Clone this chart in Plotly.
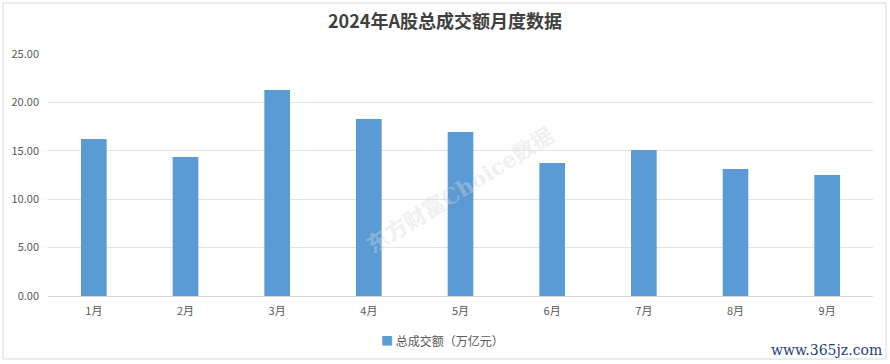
import plotly.graph_objects as go

months = ["1月", "2月", "3月", "4月", "5月", "6月", "7月", "8月", "9月"]
turnover = [16.22, 14.36, 21.28, 18.29, 16.94, 13.74, 15.08, 13.12, 12.50]
y_ticks = [0, 5, 10, 15, 20, 25]
y_tick_labels = ["0.00", "5.00", "10.00", "15.00", "20.00", "25.00"]
series_name = "总成交额（万亿元）"
title_text = "2024年A股总成交额月度数据"
bar_color = "#5b9bd5"

W, H = 890, 364
L, R, T, B = 48, 17, 54, 68

def px_x(p):
    return (p - L) / (W - L - R)

def px_y(p):
    return (H - B - p) / (H - T - B)

fig = go.Figure()
fig.add_trace(go.Bar(
    x=months, y=turnover, name=series_name,
    marker=dict(color=bar_color, line=dict(width=0)),
    width=0.28, showlegend=False,
))

fig.update_layout(
    width=W, height=H,
    margin=dict(l=L, r=R, t=T, b=B, autoexpand=False),
    paper_bgcolor="white", plot_bgcolor="white",
    font=dict(family="Noto Sans CJK SC, sans-serif", color="#595959", size=11),
    title=dict(text="<b>" + title_text + "</b>", x=0.5, xanchor="center",
               y=1 - 22 / H, yanchor="middle", yref="container",
               font=dict(size=18, color="#404040", family="Noto Sans CJK SC, sans-serif")),
    showlegend=False,
    xaxis=dict(showgrid=False, showline=True, linecolor="#d9d9d9", linewidth=1,
               ticks="", ticklabelstandoff=5, tickfont=dict(size=11, color="#595959")),
    yaxis=dict(range=[0, 25], tickvals=y_ticks, ticktext=y_tick_labels,
               showgrid=True, gridcolor="#e3e3e3", gridwidth=1, zeroline=False,
               showline=False, ticks="", ticklabelstandoff=8,
               tickfont=dict(size=11, color="#595959")),
)

# chart border
fig.add_shape(type="rect", xref="paper", yref="paper",
              x0=px_x(3), x1=px_x(886), y0=px_y(359), y1=px_y(3),
              line=dict(color="#d9d9d9", width=1), fillcolor="rgba(0,0,0,0)", layer="below")

# legend (series key)
fig.add_annotation(
    text="<span style='color:%s'>■</span> %s" % (bar_color, series_name),
    xref="paper", yref="paper", x=px_x(442), y=px_y(340),
    xanchor="center", yanchor="middle", showarrow=False,
    font=dict(size=12, color="#595959"))

# watermark
fig.add_annotation(text="<b>东方财富Choice数据</b>", xref="paper", yref="paper",
                   x=px_x(460), y=px_y(190), showarrow=False, textangle=-32,
                   font=dict(size=22, color="rgba(215,215,215,0.4)",
                             family="DejaVu Serif, Noto Sans CJK SC, serif"))

fig.add_annotation(text="www.365jz.com", xref="paper", yref="paper",
                   x=px_x(884), y=px_y(350), xanchor="right", yanchor="middle",
                   showarrow=False,
                   font=dict(size=14, color="#1f3f77", family="DejaVu Serif, serif"))

fig.write_html("out.html", config={"displayModeBar": False},
               post_script="document.body.style.margin='0';")
